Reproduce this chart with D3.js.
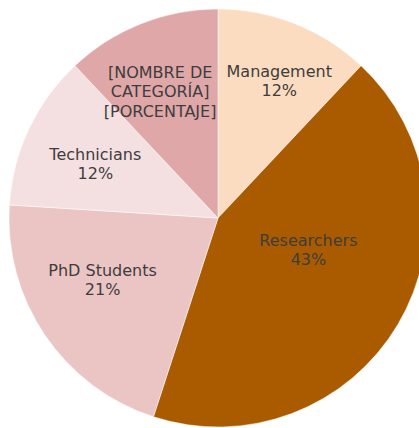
<!DOCTYPE html>
<html>
<head>
<meta charset="utf-8">
<script src="https://cdn.jsdelivr.net/npm/d3@7"></script>
<style>
  body { margin: 0; background: #fff; }
  text { font-family: "DejaVu Sans", sans-serif; fill: #3d3d3d; }
</style>
</head>
<body>
<div id="chart"></div>
<script>
// chart data
var categories = ["Management", "Researchers", "PhD Students", "Technicians", "[NOMBRE DE CATEGORÍA]"];
var values = [12, 43, 21, 12, 12];
var labels = [["Management", "12%"], ["Researchers", "43%"], ["PhD Students", "21%"], ["Technicians", "12%"], ["[NOMBRE DE", "CATEGORÍA]", "[PORCENTAJE]"]];
var colors = ["#fcdcc0", "#aa5b00", "#ebc4c4", "#f4e0e0", "#e0a7a8"];

var w = 419, h = 428;
var cx = 218, cy = 218, r = 209;
// label distance from centre and small angle tweak (deg), per slice
var labelPos = [[150, 2.5], [96, -11], [131, 6], [134, -1.5], [139, -3]];

var svg = d3.select("#chart").append("svg")
  .attr("width", w)
  .attr("height", h);

var g = svg.append("g").attr("transform", "translate(" + cx + "," + cy + ")");

var pie = d3.pie().sort(null).value(function(d) { return d; });
var arcs = pie(values);
var arc = d3.arc().innerRadius(0).outerRadius(r);

g.selectAll("path")
  .data(arcs)
  .enter()
  .append("path")
  .attr("d", arc)
  .attr("fill", function(d, i) { return colors[i]; })
  .attr("stroke", "#fff")
  .attr("stroke-width", 0.5);

var lab = g.selectAll("g.label")
  .data(arcs)
  .enter()
  .append("g")
  .attr("class", "label")
  .attr("transform", function(d, i) {
    var a = (d.startAngle + d.endAngle) / 2 + labelPos[i][1] * Math.PI / 180;
    var rr = labelPos[i][0];
    return "translate(" + (Math.sin(a) * rr) + "," + (-Math.cos(a) * rr) + ")";
  });

lab.each(function(d, i) {
  var lines = labels[i];
  var t = d3.select(this).append("text")
    .attr("text-anchor", "middle")
    .attr("font-size", 16);
  lines.forEach(function(s, k) {
    t.append("tspan")
      .attr("x", 0)
      .attr("y", (k - (lines.length - 1) / 2) * 19.5 + 5.5)
      .text(s);
  });
});
</script>
</body>
</html>
